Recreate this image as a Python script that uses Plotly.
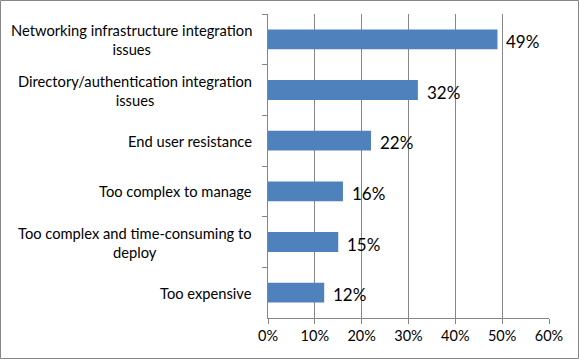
import plotly.graph_objects as go

categories = [
    "Networking infrastructure integration<br>issues",
    "Directory/authentication integration<br>issues",
    "End user resistance",
    "Too complex to manage",
    "Too complex and time-consuming to<br>deploy",
    "Too expensive",
]
values = [0.49, 0.32, 0.22, 0.16, 0.15, 0.12]
value_labels = ["49%", "32%", "22%", "16%", "15%", "12%"]
x_ticks = [0, 0.1, 0.2, 0.3, 0.4, 0.5, 0.6]
x_tick_labels = ["0%", "10%", "20%", "30%", "40%", "50%", "60%"]

W, H = 579, 359
ML, MR, MT, MB = 268, 30, 14, 41
PW, PH = W - ML - MR, H - MT - MB
GRAY = "#868686"
FONT = "Lato, Calibri, 'Open Sans', sans-serif"

fig = go.Figure()
fig.add_trace(go.Bar(
    x=values, y=categories, orientation="h",
    marker=dict(color="#4F81BD", line=dict(width=0)),
    width=0.39, hoverinfo="skip",
))

for c, v, t in zip(categories, values, value_labels):
    fig.add_annotation(x=v, y=c, xref="x", yref="y", text=t, showarrow=False,
                       xanchor="left", yanchor="middle", xshift=7, yshift=-2,
                       font=dict(family=FONT, size=17, color="#000000"))
    fig.add_annotation(x=0, y=c, xref="paper", yref="y", text=c, showarrow=False,
                       xanchor="right", yanchor="middle", align="center", xshift=-14,
                       font=dict(family=FONT, size=14.7, color="#000000"))

fig.add_shape(type="rect", xref="paper", yref="paper",
              x0=(0.5 - ML) / PW, x1=(W - 0.5 - ML) / PW,
              y0=-(MB - 0.5) / PH, y1=1 + (MT - 0.5) / PH,
              line=dict(color=GRAY, width=1), fillcolor="rgba(0,0,0,0)", layer="below")

fig.update_layout(
    width=W, height=H,
    margin=dict(l=ML, r=MR, t=MT, b=MB, pad=0, autoexpand=False),
    paper_bgcolor="white", plot_bgcolor="white",
    showlegend=False,
    font=dict(family=FONT, size=14, color="#000000"),
    bargap=0.6,
)
fig.update_xaxes(
    range=[0, 0.6], tickvals=x_ticks, ticktext=x_tick_labels,
    showgrid=True, gridcolor=GRAY, gridwidth=1,
    showline=True, linecolor=GRAY, linewidth=1,
    ticks="outside", ticklen=5, tickcolor=GRAY,
    zeroline=False, tickfont=dict(family=FONT, size=14.5, color="#000000"),
    fixedrange=True, automargin=False,
)
fig.update_yaxes(
    type="category", autorange="reversed",
    showticklabels=False, showgrid=False,
    showline=True, linecolor=GRAY, linewidth=1,
    ticks="outside", ticklen=5, tickcolor=GRAY, tickson="boundaries",
    zeroline=False, fixedrange=True, automargin=False,
)

fig.write_html("out.html", config={"displayModeBar": False},
               post_script="document.body.style.margin='0';document.body.style.padding='0';")
